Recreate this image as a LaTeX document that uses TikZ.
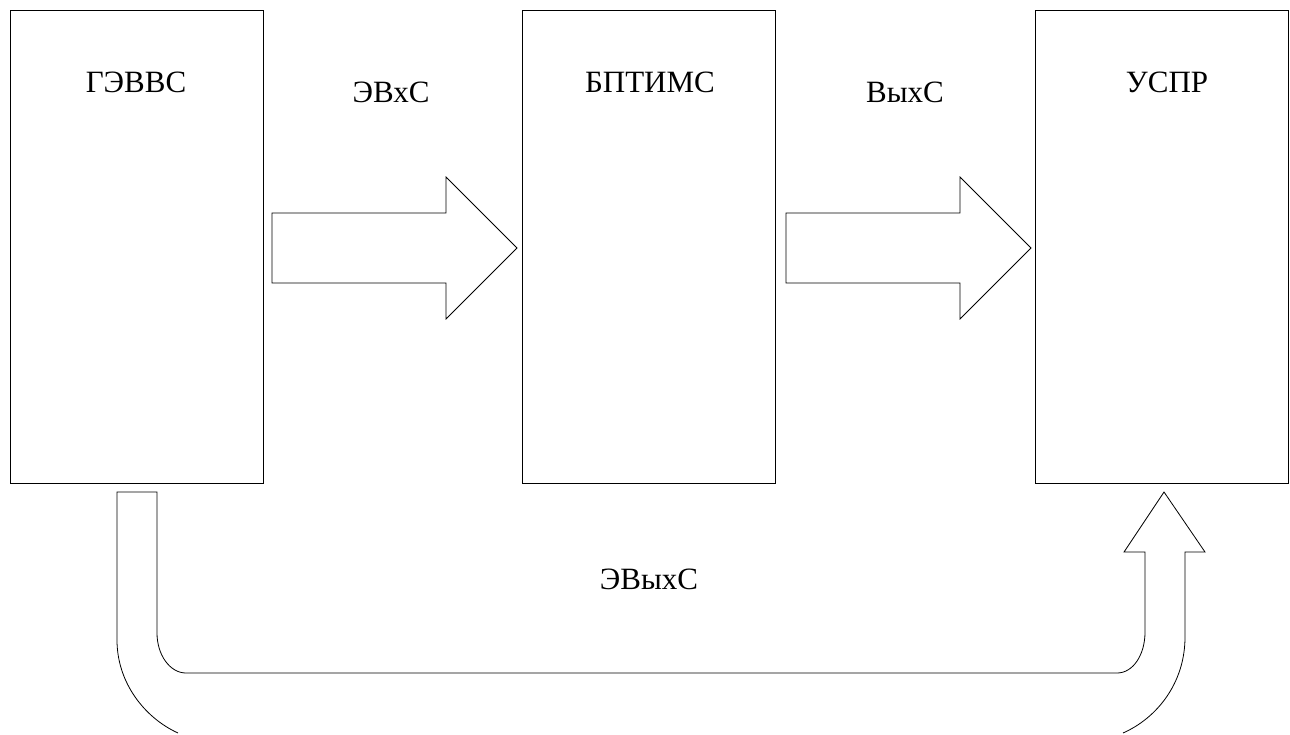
\documentclass[tikz,border=0pt]{standalone}
\usepackage{fontspec}
\setmainfont{Liberation Serif}
\begin{document}
\begin{tikzpicture}[x=1pt,y=-1pt,
  block/.style={draw,line width=0.9pt,minimum width=253pt,minimum height=473pt,inner sep=0pt,anchor=north west},
  lbl/.style={font=\fontsize{31}{36}\selectfont,inner sep=0pt,anchor=base},
  flow/.style={draw,line width=0.8pt,line join=miter}]
\useasboundingbox (0,0) rectangle (1290,734);
% blocks
\node[block] (g) at (10,10) {};
\node[block] (b) at (522,10) {};
\node[block] (u) at (1035,10) {};
% block titles
\node[lbl] (gt) at (136,92.5) {ГЭВВС};
\node[lbl] (bt) at (650,92.5) {БПТИМС};
\node[lbl] (ut) at (1167,92.5) {УСПР};
% signal labels
\node[lbl] (s1) at (391,102.5) {ЭВхС};
\node[lbl] (s2) at (905,102.5) {ВыхС};
\node[lbl] (s3) at (649,589) {ЭВыхС};
% block arrows between the units
\draw[flow] (272,213) -- (446,213) -- (446,177) -- (517,248) -- (446,319) -- (446,283) -- (272,283) -- cycle;
\draw[flow] (786,213) -- (960,213) -- (960,177) -- (1031,248) -- (960,319) -- (960,283) -- (786,283) -- cycle;
% bent arrow from the generator round to the last unit
\draw[flow] (178,733) .. controls (145,718) and (117,683) .. (117,640)
  -- (117,492) -- (157,492) -- (157,633)
  .. controls (157,655) and (170,673) .. (186,673)
  -- (1117,673)
  .. controls (1133,673) and (1145,655) .. (1145,632)
  -- (1145,552) -- (1124,552) -- (1164,492) -- (1205,552) -- (1185,552) -- (1185,637)
  .. controls (1185,683) and (1157,718) .. (1123,733);
\end{tikzpicture}
\end{document}
